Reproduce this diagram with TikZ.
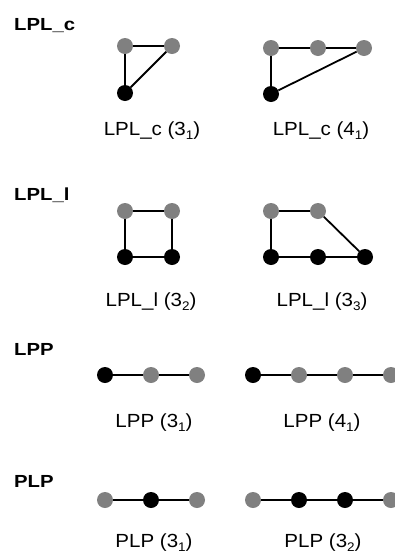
\documentclass[tikz,border=0pt]{standalone}
\usepackage{fontspec}
\setmainfont{Liberation Sans}
\newfontfamily\capfont[FakeStretch=1.08]{Liberation Sans}
\newfontfamily\headfont[FakeStretch=1.16]{Liberation Sans Bold}
\definecolor{vgray}{HTML}{808080}
\newcommand{\sbs}[1]{\raisebox{-0.26em}{\fontsize{12.5}{12.5}\selectfont #1}}
\tikzset{
  grayatom/.style={circle, fill=vgray, minimum size=16pt, inner sep=0pt},
  blackatom/.style={circle, fill=black, minimum size=16pt, inner sep=0pt},
  bond/.style={line width=1.8pt, black},
  grouphead/.style={anchor=base west, inner sep=0pt, font=\headfont\fontsize{17.5}{17.5}\selectfont},
  graphlabel/.style={anchor=base, inner sep=0pt, font=\capfont\fontsize{19}{19}\selectfont}
}
\begin{document}
\begin{tikzpicture}[x=1pt, y=-1pt]
\useasboundingbox (0,0) rectangle (395,555);

% ---- LPL_c ----
\node[grouphead] (hA) at (14,30) {LPL\_c};
\node[grayatom] (a1) at (125,46) {};
\node[grayatom] (a2) at (172,46) {};
\node[blackatom] (a3) at (125,93) {};
\draw[bond] (a1) -- (a2) (a1) -- (a3) (a2) -- (a3);
\node[graphlabel] (ca) at (152,135) {LPL\_c (3\sbs{1})};

\node[grayatom] (b1) at (271,48) {};
\node[grayatom] (b2) at (318,48) {};
\node[grayatom] (b3) at (364,48) {};
\node[blackatom] (b4) at (271,94) {};
\draw[bond] (b1) -- (b2) (b2) -- (b3) (b1) -- (b4) (b3) -- (b4);
\node[graphlabel] (cb) at (321,135) {LPL\_c (4\sbs{1})};

% ---- LPL_l ----
\node[grouphead] (hB) at (14,200) {LPL\_l};
\node[grayatom] (c1) at (125,211) {};
\node[grayatom] (c2) at (172,211) {};
\node[blackatom] (c3) at (125,257) {};
\node[blackatom] (c4) at (172,257) {};
\draw[bond] (c1) -- (c2) (c1) -- (c3) (c2) -- (c4) (c3) -- (c4);
\node[graphlabel] (cc) at (151,306) {LPL\_l (3\sbs{2})};

\node[grayatom] (d1) at (271,211) {};
\node[grayatom] (d2) at (318,211) {};
\node[blackatom] (d3) at (271,257) {};
\node[blackatom] (d4) at (318,257) {};
\node[blackatom] (d5) at (365,257) {};
\draw[bond] (d1) -- (d2) (d2) -- (d5) (d1) -- (d3) (d3) -- (d4) (d4) -- (d5);
\node[graphlabel] (cd) at (322,306) {LPL\_l (3\sbs{3})};

% ---- LPP ----
\node[grouphead] (hC) at (14,355) {LPP};
\node[blackatom] (e1) at (105,375) {};
\node[grayatom] (e2) at (151,375) {};
\node[grayatom] (e3) at (197,375) {};
\draw[bond] (e1) -- (e2) (e2) -- (e3);
\node[graphlabel] (ce) at (154,427) {LPP (3\sbs{1})};

\node[blackatom] (f1) at (253,375) {};
\node[grayatom] (f2) at (299,375) {};
\node[grayatom] (f3) at (345,375) {};
\node[grayatom] (f4) at (391,375) {};
\draw[bond] (f1) -- (f2) (f2) -- (f3) (f3) -- (f4);
\node[graphlabel] (cf) at (322,427) {LPP (4\sbs{1})};

% ---- PLP ----
\node[grouphead] (hD) at (14,487) {PLP};
\node[grayatom] (g1) at (105,500) {};
\node[blackatom] (g2) at (151,500) {};
\node[grayatom] (g3) at (197,500) {};
\draw[bond] (g1) -- (g2) (g2) -- (g3);
\node[graphlabel] (cg) at (154,547) {PLP (3\sbs{1})};

\node[grayatom] (h1) at (253,500) {};
\node[blackatom] (h2) at (299,500) {};
\node[blackatom] (h3) at (345,500) {};
\node[grayatom] (h4) at (391,500) {};
\draw[bond] (h1) -- (h2) (h2) -- (h3) (h3) -- (h4);
\node[graphlabel] (ch) at (323,547) {PLP (3\sbs{2})};
\end{tikzpicture}
\end{document}
